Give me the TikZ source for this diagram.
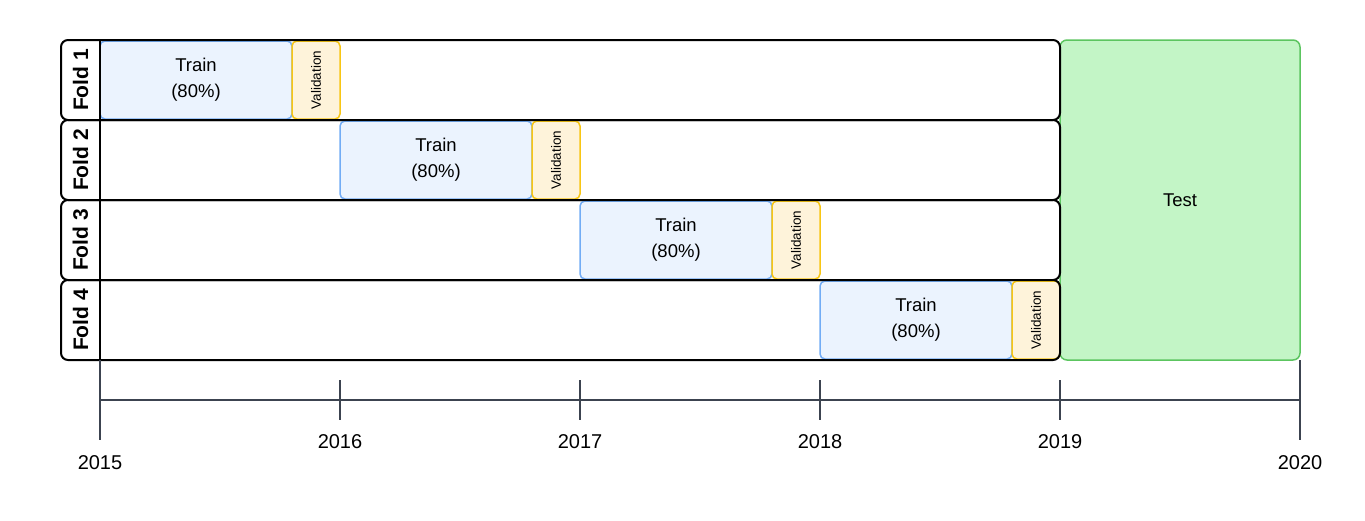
\documentclass[tikz,border=0pt]{standalone}
\usepackage{fontspec}
\setmainfont{Liberation Sans}
\usepackage{xcolor}
\usetikzlibrary{positioning}

\definecolor{trainfill}{HTML}{EBF3FE}
\definecolor{trainline}{HTML}{72ACF5}
\definecolor{validfill}{HTML}{FEF3DA}
\definecolor{validline}{HTML}{F8C614}
\definecolor{testfill}{HTML}{C3F5C6}
\definecolor{testline}{HTML}{5CC560}
\definecolor{axisgray}{HTML}{3C4350}

\begin{document}
\begin{tikzpicture}[x=1pt, y=-1pt,
    trainbox/.style={draw=trainline, fill=trainfill, line width=1.5pt, rounded corners=5pt,
        minimum width=192pt, minimum height=78pt, inner sep=0pt, align=center,
        font=\fontsize{18.5}{26}\selectfont},
    validbox/.style={draw=validline, fill=validfill, line width=1.5pt, rounded corners=5pt,
        minimum width=48pt, minimum height=78pt, inner sep=0pt,
        font=\fontsize{13.5}{15}\selectfont},
    rowbox/.style={draw=black, line width=2pt, rounded corners=7pt,
        minimum width=999pt, minimum height=80pt, inner sep=0pt},
    foldlabel/.style={minimum width=39pt, minimum height=80pt, inner sep=0pt,
        font=\fontsize{21}{24}\selectfont\bfseries},
    testbox/.style={draw=testline, fill=testfill, line width=1.5pt, rounded corners=7pt,
        minimum width=240pt, minimum height=320pt, inner sep=0pt,
        font=\fontsize{18.5}{22}\selectfont},
    axisline/.style={draw=axisgray, line width=2pt},
    yearlabel/.style={font=\fontsize{20}{24}\selectfont, inner sep=0pt}]
    \useasboundingbox (0,0) rectangle (1365,520);

    % test block
    \node[testbox] (test) at (1180,200) {Test};

    % folds
    \foreach \i in {1,...,4} {
        \pgfmathsetmacro{\yc}{80+80*(\i-1)}
        \pgfmathsetmacro{\xt}{196+240*(\i-1)}
        \pgfmathsetmacro{\xv}{316+240*(\i-1)}
        \node[trainbox] (train\i) at (\xt,\yc) {Train\\(80\%)};
        \node[validbox] (valid\i) at (\xv,\yc) {\rotatebox{90}{Validation}};
        \node[rowbox] (row\i) at (560.5,\yc) {};
        \node[foldlabel] (fold\i) at (80.5,\yc) {\rotatebox{90}{Fold \i}};
        \draw[line width=2pt] (fold\i.north east) -- (fold\i.south east);
    }

    % time axis
    \coordinate (a0) at (100,400);
    \coordinate (a5) at (1300,400);
    \draw[axisline] (a0) -- (a5);
    \draw[axisline] (100,360) -- (100,440);
    \draw[axisline] (1300,360) -- (1300,440);
    \foreach \x in {340,580,820,1060}
        \draw[axisline] (\x,380) -- (\x,420);
    \node[yearlabel] (y2015) at (100,463) {2015};
    \node[yearlabel] (y2016) at (340,442) {2016};
    \node[yearlabel] (y2017) at (580,442) {2017};
    \node[yearlabel] (y2018) at (820,442) {2018};
    \node[yearlabel] (y2019) at (1060,442) {2019};
    \node[yearlabel] (y2020) at (1300,463) {2020};
\end{tikzpicture}
\end{document}
